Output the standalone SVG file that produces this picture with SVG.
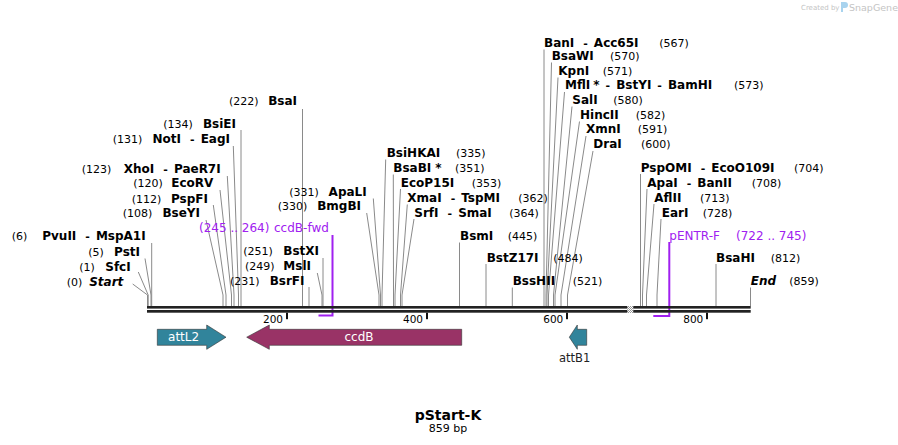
<svg xmlns="http://www.w3.org/2000/svg" width="898" height="445" viewBox="0 0 898 445">
<style>
.ln{stroke:#8a8a8a;stroke-width:1;fill:none}
.b{font-family:'DejaVu Sans',sans-serif;font-weight:bold;font-size:12px;fill:#000}
.bi{font-family:'DejaVu Sans',sans-serif;font-weight:bold;font-style:italic;font-size:12px;fill:#000}
.n{font-family:'DejaVu Sans',sans-serif;font-size:11px;fill:#000}
.e{text-anchor:end}
.pr{font-family:'DejaVu Sans',sans-serif;font-size:12px;fill:#a020f0}
.pl{stroke:#a020f0;stroke-width:2;fill:none}
.tk{font-family:'DejaVu Sans',sans-serif;font-size:10.5px;fill:#000;text-anchor:end}
.ft{font-family:'DejaVu Sans',sans-serif;font-size:12px;fill:#fff;text-anchor:middle}
</style>
<defs>
<pattern id="chk" width="2" height="2" patternUnits="userSpaceOnUse">
<rect width="2" height="2" fill="#fff"/>
<rect width="1" height="1" fill="#999"/>
<rect x="1" y="1" width="1" height="1" fill="#999"/>
</pattern>
</defs>
<rect width="898" height="445" fill="#fff"/>

<g id="watermark">
<text x="801" y="9.5" style="font-family:'DejaVu Sans',sans-serif;font-size:7px;fill:#c4c4c4">Created by</text>
<path d="M841,2 h4 a3,3 0 0 1 0,6 h-2 v4 h-2 z" fill="#a8d3ee"/>
<text x="849" y="10.5" style="font-family:'DejaVu Sans',sans-serif;font-size:9.5px;fill:#c4c4c4">SnapGene</text>
</g>

<g id="connectors">
<path class="ln" d="M132.7,284 L147.5,295 V306"/>
<path class="ln" d="M138.3,272 L148.2,295 V306"/>
<path class="ln" d="M145,258.5 L151,295 V306"/>
<path class="ln" d="M151.7,243 V306"/>
<path class="ln" d="M206,220 L223,295 V306"/>
<path class="ln" d="M213.3,205 L226,295 V306"/>
<path class="ln" d="M220,190 L231.5,295 V306"/>
<path class="ln" d="M227.3,176 L234,295 V306"/>
<path class="ln" d="M233.3,146 L238.5,295 V306"/>
<path class="ln" d="M241,130 V306"/>
<path class="ln" d="M302.5,109 V306"/>
<path class="ln" d="M309,287 V306"/>
<path class="ln" d="M317.3,273 L322,295 V306"/>
<path class="ln" d="M323,258 V306"/>
<path class="ln" d="M366.7,213 L379,295 V306"/>
<path class="ln" d="M373.3,198.5 L380.5,295 V306"/>
<path class="ln" d="M385.7,159.5 L382,295 V306"/>
<path class="ln" d="M393.3,174.5 L393.5,295 V306"/>
<path class="ln" d="M400.5,189 L395,295 V306"/>
<path class="ln" d="M407.3,204.5 L400.5,295 V306"/>
<path class="ln" d="M414,219 L402,295 V306"/>
<path class="ln" d="M459.5,242.5 V306"/>
<path class="ln" d="M486,264 V306"/>
<path class="ln" d="M512.3,287.5 V306"/>
<path class="ln" d="M544,49.5 V306"/>
<path class="ln" d="M551.5,62.5 L546,295 V306"/>
<path class="ln" d="M558,77.5 L547,295 V306"/>
<path class="ln" d="M564.5,92 L548.5,295 V306"/>
<path class="ln" d="M572,106.5 L553.5,295 V306"/>
<path class="ln" d="M579.5,121.5 L555,295 V306"/>
<path class="ln" d="M586,136 L561,295 V306"/>
<path class="ln" d="M593,151 L567.5,295 V306"/>
<path class="ln" d="M640.5,174 V306"/>
<path class="ln" d="M647,189 L642.5,295 V306"/>
<path class="ln" d="M654,204 L646.5,295 V306"/>
<path class="ln" d="M661,219 L657,295 V306"/>
<path class="ln" d="M716,264 V306"/>
<path class="ln" d="M750.5,287.5 V306"/>
<path class="pl" d="M332.5,235 V315.5 H318.5"/>
<path class="pl" d="M669.3,242 V316 H653.3"/>
</g>

<g id="backbone">
<rect x="147" y="306" width="603.7" height="2.6" fill="#222"/>
<rect x="147" y="310" width="603.7" height="2.7" fill="#222"/>
<rect x="627.3" y="306" width="6" height="7" fill="url(#chk)"/>
<rect x="286" y="312.7" width="2" height="6.5" fill="#111"/>
<rect x="426" y="312.7" width="2" height="6.5" fill="#111"/>
<rect x="566" y="312.7" width="2" height="6.5" fill="#111"/>
<rect x="706" y="312.7" width="2" height="6.5" fill="#111"/>
<text class="tk" x="283" y="322.5">200</text>
<text class="tk" x="423" y="322.5">400</text>
<text class="tk" x="563.3" y="322.5">600</text>
<text class="tk" x="703.3" y="322.5">800</text>
</g>

<g id="attL2">
<polygon points="157.3,329.3 206.7,329.3 206.7,325 226,337.2 206.7,349.3 206.7,345.3 157.3,345.3" fill="#31849b" stroke="#333" stroke-width="0.6"/>
<text class="ft" x="183.6" y="341.3">attL2</text>
</g>
<g id="ccdB">
<polygon points="246.7,337.2 269.3,325 269.3,329.3 461.7,329.3 461.7,345.3 269.3,345.3 269.3,349.3" fill="#993366" stroke="#333" stroke-width="0.6"/>
<text class="ft" x="359" y="341.3">ccdB</text>
</g>
<g id="attB1">
<polygon points="569.3,337.2 577.3,325 577.3,329.3 586.7,329.3 586.7,345.3 577.3,345.3 577.3,349.3" fill="#31849b" stroke="#333" stroke-width="0.6"/>
<text x="574.7" y="361.7" style="font-family:'DejaVu Sans',sans-serif;font-size:11.5px;fill:#222;text-anchor:middle">attB1</text>
</g>

<g id="primer-ccdB-fwd"><text class="pr" y="232.3"><tspan x="199">(245 .. 264)</tspan><tspan x="274">ccdB-fwd</tspan></text></g>
<g id="primer-pENTR-F"><text class="pr" y="240"><tspan x="669.3">pENTR-F</tspan><tspan x="736">(722 .. 745)</tspan></text></g>

<g id="site-Start"><text class="n" x="66.7" y="285.7">(0)</text><text class="bi e" x="123.3" y="285.7">Start</text></g>
<g id="site-SfcI"><text class="n" x="79.3" y="270.7">(1)</text><text class="b e" x="130.7" y="270.7">SfcI</text></g>
<g id="site-PstI"><text class="n" x="88.3" y="255.7">(5)</text><text class="b e" x="140" y="255.7">PstI</text></g>
<g id="site-PvuII"><text class="n" x="11.7" y="240">(6)</text><text class="b e" x="145.7" y="240"><tspan>PvuII</tspan><tspan class="n" dx="9">-</tspan><tspan dx="6">MspA1I</tspan></text></g>
<g id="site-BseYI"><text class="n" x="122.7" y="217.3">(108)</text><text class="b e" x="200" y="217.3">BseYI</text></g>
<g id="site-PspFI"><text class="n" x="131.7" y="202.7">(112)</text><text class="b e" x="208" y="202.7">PspFI</text></g>
<g id="site-EcoRV"><text class="n" x="133.3" y="187.3">(120)</text><text class="b e" x="213.3" y="187.3">EcoRV</text></g>
<g id="site-XhoI"><text class="n" x="81.7" y="172.7">(123)</text><text class="b e" x="220.7" y="172.7"><tspan>XhoI</tspan><tspan class="n" dx="9">-</tspan><tspan dx="6">PaeR7I</tspan></text></g>
<g id="site-NotI"><text class="n" x="112.7" y="142.7">(131)</text><text class="b e" x="230" y="142.7"><tspan>NotI</tspan><tspan class="n" dx="9">-</tspan><tspan dx="6">EagI</tspan></text></g>
<g id="site-BsiEI"><text class="n" x="163.3" y="127.7">(134)</text><text class="b e" x="236" y="127.7">BsiEI</text></g>
<g id="site-BsaI"><text class="n" x="229" y="105.3">(222)</text><text class="b e" x="297" y="105.3">BsaI</text></g>
<g id="site-BsrFI"><text class="n" x="230" y="285.3">(231)</text><text class="b e" x="304.5" y="285.3">BsrFI</text></g>
<g id="site-MslI"><text class="n" x="245" y="270">(249)</text><text class="b e" x="311" y="270">MslI</text></g>
<g id="site-BstXI"><text class="n" x="243.3" y="255">(251)</text><text class="b e" x="319" y="255">BstXI</text></g>
<g id="site-BmgBI"><text class="n" x="277.7" y="210">(330)</text><text class="b e" x="361" y="210">BmgBI</text></g>
<g id="site-ApaLI"><text class="n" x="289.3" y="196">(331)</text><text class="b e" x="366.7" y="196">ApaLI</text></g>
<g id="site-BsiHKAI"><text class="b" x="386.7" y="157.3">BsiHKAI</text><text class="n" x="456" y="157.3">(335)</text></g>
<g id="site-BsaBI"><text class="b" x="393.3" y="172.3"><tspan>BsaBI</tspan><tspan dx="4">*</tspan></text><text class="n" x="455" y="172.3">(351)</text></g>
<g id="site-EcoP15I"><text class="b" x="400.7" y="186.7">EcoP15I</text><text class="n" x="471.7" y="186.7">(353)</text></g>
<g id="site-XmaI"><text class="b" x="407.3" y="202.3"><tspan>XmaI</tspan><tspan class="n" dx="9">-</tspan><tspan dx="6">TspMI</tspan></text><text class="n" x="518.3" y="202.3">(362)</text></g>
<g id="site-SrfI"><text class="b" x="414.3" y="216.7"><tspan>SrfI</tspan><tspan class="n" dx="9">-</tspan><tspan dx="6">SmaI</tspan></text><text class="n" x="509.3" y="216.7">(364)</text></g>
<g id="site-BsmI"><text class="b" x="460" y="240">BsmI</text><text class="n" x="507.7" y="240">(445)</text></g>
<g id="site-BstZ17I"><text class="b" x="486.7" y="261.7">BstZ17I</text><text class="n" x="553.3" y="261.7">(484)</text></g>
<g id="site-BssHII"><text class="b" x="512.7" y="285">BssHII</text><text class="n" x="572.7" y="285">(521)</text></g>
<g id="site-BanI"><text class="b" x="544" y="46.7"><tspan>BanI</tspan><tspan class="n" dx="9">-</tspan><tspan dx="6">Acc65I</tspan></text><text class="n" x="659.3" y="46.7">(567)</text></g>
<g id="site-BsaWI"><text class="b" x="551.7" y="60.3">BsaWI</text><text class="n" x="610" y="60.3">(570)</text></g>
<g id="site-KpnI"><text class="b" x="558.3" y="75">KpnI</text><text class="n" x="602.7" y="75">(571)</text></g>
<g id="site-MflI"><text class="b" x="565" y="89.3"><tspan>MflI</tspan><tspan dx="3">*</tspan><tspan class="n" dx="6">-</tspan><tspan dx="6">BstYI</tspan><tspan class="n" dx="6">-</tspan><tspan dx="6">BamHI</tspan></text><text class="n" x="734" y="89.3">(573)</text></g>
<g id="site-SalI"><text class="b" x="572.3" y="104.3">SalI</text><text class="n" x="613.3" y="104.3">(580)</text></g>
<g id="site-HincII"><text class="b" x="580" y="119">HincII</text><text class="n" x="635.7" y="119">(582)</text></g>
<g id="site-XmnI"><text class="b" x="586" y="133.3">XmnI</text><text class="n" x="637.7" y="133.3">(591)</text></g>
<g id="site-DraI"><text class="b" x="593.3" y="148.3">DraI</text><text class="n" x="641" y="148.3">(600)</text></g>
<g id="site-PspOMI"><text class="b" x="640.7" y="171.7"><tspan>PspOMI</tspan><tspan class="n" dx="9">-</tspan><tspan dx="6">EcoO109I</tspan></text><text class="n" x="794" y="171.7">(704)</text></g>
<g id="site-ApaI"><text class="b" x="647.3" y="186.7"><tspan>ApaI</tspan><tspan class="n" dx="9">-</tspan><tspan dx="6">BanII</tspan></text><text class="n" x="751.7" y="186.7">(708)</text></g>
<g id="site-AflII"><text class="b" x="654.3" y="201.7">AflII</text><text class="n" x="700" y="201.7">(713)</text></g>
<g id="site-EarI"><text class="b" x="661.7" y="216.7">EarI</text><text class="n" x="702.7" y="216.7">(728)</text></g>
<g id="site-BsaHI"><text class="b" x="716" y="261.7">BsaHI</text><text class="n" x="770.7" y="261.7">(812)</text></g>
<g id="site-End"><text class="bi" x="750.7" y="285">End</text><text class="n" x="789.3" y="285">(859)</text></g>

<g id="title">
<text x="448" y="420" style="font-family:'DejaVu Sans',sans-serif;font-weight:bold;font-size:14px;fill:#000;text-anchor:middle">pStart-K</text>
<text x="448" y="431.7" style="font-family:'DejaVu Sans',sans-serif;font-size:11px;fill:#000;text-anchor:middle">859 bp</text>
</g>
</svg>
